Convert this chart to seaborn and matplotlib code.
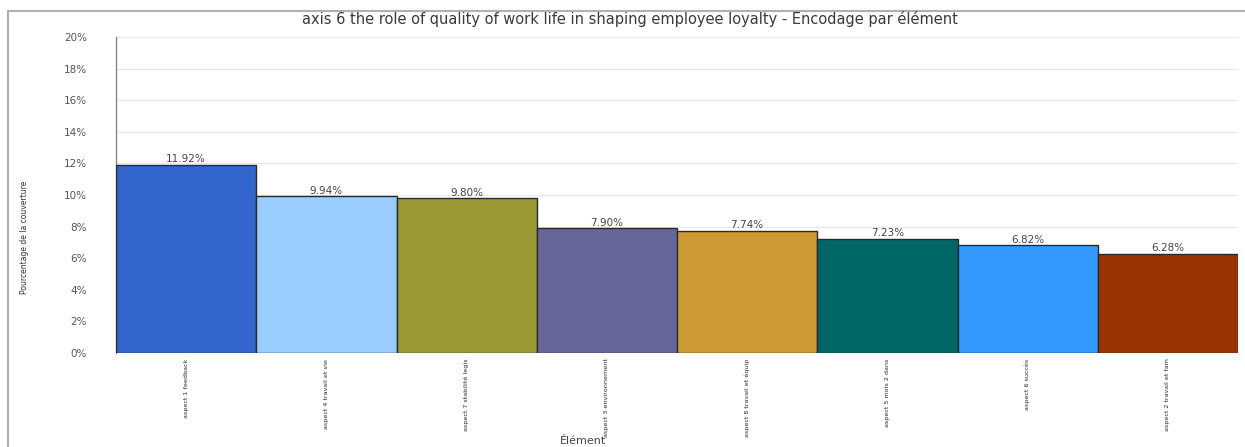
import matplotlib
matplotlib.use("Agg")
import matplotlib.pyplot as plt
import seaborn as sns
import pandas as pd
from matplotlib.ticker import FuncFormatter, MultipleLocator
from matplotlib.patches import Rectangle

categories = [
    "aspect 1 feedback",
    "aspect 4 travail et vie",
    "aspect 7 stabilité legis",
    "aspect 3 environnement",
    "aspect 8 travail et équip",
    "aspect 5 mois 2 dans",
    "aspect 6 succès",
    "aspect 2 travail et fam",
]
values = [11.92, 9.94, 9.80, 7.90, 7.74, 7.23, 6.82, 6.28]
value_labels = ["11.92%", "9.94%", "9.80%", "7.90%", "7.74%", "7.23%", "6.82%", "6.28%"]
colors = ["#3366cc", "#99ccff", "#999933", "#666699", "#cc9933", "#006666", "#3399ff", "#993300"]

title = "axis 6 the role of quality of work life in shaping employee loyalty - Encodage par élément"
ylabel = "Pourcentage de la couverture"
xlabel = "Élément"

sns.set_theme(style="white")
plt.rcParams["font.family"] = ["DejaVu Sans"]

df = pd.DataFrame({"cat": categories, "val": values})

fig = plt.figure(figsize=(12.45, 4.47), dpi=100)
ax = fig.add_axes([116 / 1245, 1 - 353 / 447, (1238 - 116) / 1245, (353 - 37) / 447])

sns.barplot(data=df, x="cat", y="val", hue="cat", palette=colors, width=1.0, saturation=1,
            edgecolor="#2a2a2a", linewidth=1.0, legend=False, ax=ax, zorder=3)

ax.set_xlim(-0.5, len(categories) - 0.5)
ax.set_ylim(0, 20)
ax.yaxis.set_major_locator(MultipleLocator(2))
ax.yaxis.set_major_formatter(FuncFormatter(lambda v, p: f"{v:.0f}%"))
ax.grid(axis="y", color="#e8e8e8", linewidth=0.9, zorder=0)
ax.grid(axis="x", visible=False)
for s in ["top", "right", "bottom"]:
    ax.spines[s].set_visible(False)
ax.spines["left"].set_color("#888888")
ax.spines["left"].set_linewidth(1.0)

ax.tick_params(axis="y", length=0, pad=21, labelsize=7.5, labelcolor="#555555")
ax.tick_params(axis="x", length=0, pad=4, labelsize=4.6, labelcolor="#2a2a2a")
for lbl in ax.get_xticklabels():
    lbl.set_rotation(90)
    lbl.set_va("top")

for i, (v, t) in enumerate(zip(values, value_labels)):
    ax.text(i, v + 0.02, t, ha="center", va="bottom", fontsize=7.5, color="#444444", zorder=4)

ax.set_xlabel("")
ax.set_ylabel("")

fig.text(630 / 1245, 1 - 19 / 447, title, ha="center", va="center", fontsize=10.5, color="#3a3a3a")
fig.text(25 / 1245, 0.47, ylabel, rotation=90, ha="center", va="center", fontsize=5.5, color="#333333")
fig.text(583 / 1245, 1 - 441 / 447, xlabel, ha="center", va="center", fontsize=8, color="#444444")

fig.add_artist(Rectangle((8 / 1245, -0.1), 1.1, 1 - 11 / 447 + 0.1, transform=fig.transFigure,
                         fill=False, edgecolor="#b0b0b0", linewidth=1.5))

fig.savefig("out.png", dpi=100)
